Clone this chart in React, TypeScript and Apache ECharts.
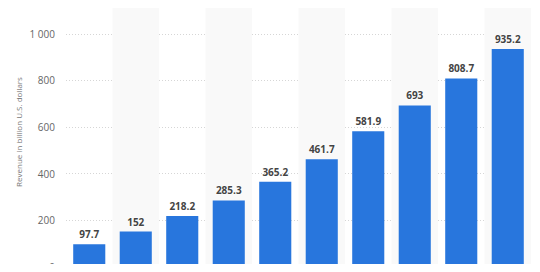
import React, { useEffect, useRef } from "react";
import * as echarts from "echarts";

const categories = ["1", "2", "3", "4", "5", "6", "7", "8", "9", "10"];
const revenue = [97.7, 152, 218.2, 285.3, 365.2, 461.7, 581.9, 693, 808.7, 935.2];
const yTicks = [0, 200, 400, 600, 800, 1000];
const yAxisTitle = "Revenue in billion U.S. dollars";

const fmt = (v: number) => {
  const s = String(v);
  return s.replace(/\B(?=(\d{3})+(?!\d))/g, " ");
};

export default function App() {
  const ref = useRef<HTMLDivElement>(null);
  useEffect(() => {
    if (!ref.current) return;
    const chart = echarts.init(ref.current, undefined, { renderer: "svg" });
    chart.setOption({
      animation: false,
      textStyle: { fontFamily: "Open Sans, Arial, sans-serif" },
      grid: { left: 66, right: 9, top: 0, bottom: 2, containLabel: false },
      xAxis: {
        type: "category",
        data: categories,
        axisTick: { show: false },
        axisLabel: { show: false },
        axisLine: { show: true, lineStyle: { color: "#7a7a7a", width: 1.5 } },
        splitArea: {
          show: true,
          areaStyle: { color: ["rgba(255,255,255,0)", "#f9f9f9"] },
        },
      },
      yAxis: {
        type: "value",
        min: 0,
        max: 1145,
        interval: 200,
        name: yAxisTitle,
        nameLocation: "middle",
        nameGap: 44,
        nameMoveOverlap: false,
        nameTextStyle: { fontSize: 8, color: "#777", padding: [0, 0, 0, 3] },
        axisLine: { show: false },
        axisTick: { show: false },
        axisLabel: {
          color: "#666",
          fontSize: 10,
          margin: 11,
          showMaxLabel: false,
          formatter: (v: number) => (yTicks.includes(v) ? fmt(v) : ""),
        },
        splitLine: {
          show: true,
          showMaxLine: false,
          lineStyle: { color: "#d6d6d6", type: [1, 2], width: 1 },
        },
      },
      series: [
        {
          type: "bar",
          data: revenue,
          barCategoryGap: "31%",
          itemStyle: { color: "#2876dd" },
          label: {
            show: true,
            position: "top",
            distance: 5,
            fontSize: 10,
            fontWeight: "bold",
            color: "#444",
            textBorderColor: "#fff",
            textBorderWidth: 1,
            formatter: (p: any) => String(p.value),
          },
        },
      ],
    });
    return () => chart.dispose();
  }, []);
  return <div ref={ref} style={{ width: 540, height: 272, margin: -8 }} />;
}
